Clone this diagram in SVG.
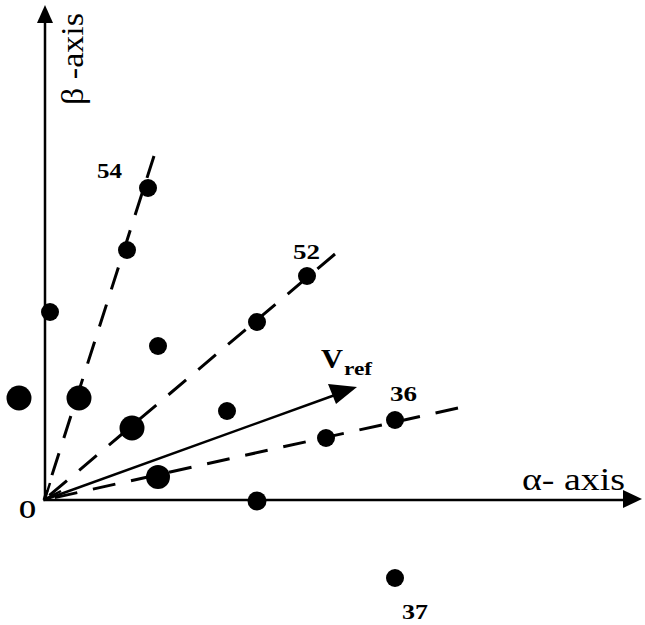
<svg xmlns="http://www.w3.org/2000/svg" width="645" height="625" viewBox="0 0 645 625">
<defs>
<style>
.axis{stroke:#000;stroke-width:2.5;fill:none}
.dash{stroke:#000;stroke-width:3;fill:none;stroke-dasharray:23 16}
.dot{fill:#000}
.lbl{font-family:"Liberation Serif",serif;font-weight:bold;fill:#000}
.ax{font-family:"Liberation Serif",serif;fill:#000}
</style>
</defs>
<rect width="645" height="625" fill="#fff"/>
<g id="connectors">
<line class="axis" x1="45" y1="500" x2="45" y2="20"/>
<polygon points="45,5 37,23 53,23" fill="#000"/>
<line class="axis" x1="44" y1="500" x2="625" y2="500"/>
<polygon points="642,499 623,490 623,508" fill="#000"/>
<line class="dash" x1="154" y1="156" x2="44" y2="500"/>
<line class="dash" x1="335" y1="254" x2="44" y2="500"/>
<line class="dash" x1="458" y1="408" x2="44" y2="500"/>
<line class="axis" x1="44" y1="500" x2="335" y2="395"/>
<polygon points="357,387 328,384 336,404" fill="#000"/>
<polyline class="axis" points="50,483 45,499 61,491"/>
</g>
<g id="dots">
<circle class="dot" cx="19" cy="398" r="12.5"/>
<circle class="dot" cx="50" cy="312" r="9"/>
<circle class="dot" cx="79" cy="398" r="12.5"/>
<circle class="dot" cx="127" cy="250" r="9"/>
<circle class="dot" cx="148" cy="188" r="9"/>
<circle class="dot" cx="158" cy="346" r="9"/>
<circle class="dot" cx="132" cy="428" r="12.5"/>
<circle class="dot" cx="158" cy="477" r="12"/>
<circle class="dot" cx="227" cy="411" r="9"/>
<circle class="dot" cx="257" cy="322" r="9"/>
<circle class="dot" cx="307" cy="276" r="9"/>
<circle class="dot" cx="326" cy="438" r="9"/>
<circle class="dot" cx="395" cy="420" r="9"/>
<circle class="dot" cx="257" cy="501" r="9.5"/>
<circle class="dot" cx="395" cy="578" r="9"/>
</g>
<g id="labels">
<text class="lbl" x="97" y="178" font-size="22" textLength="25" lengthAdjust="spacingAndGlyphs">54</text>
<text class="lbl" x="293" y="259" font-size="22" textLength="27" lengthAdjust="spacingAndGlyphs">52</text>
<text class="lbl" x="390" y="401" font-size="22" textLength="27" lengthAdjust="spacingAndGlyphs">36</text>
<text class="lbl" x="402" y="619" font-size="21" textLength="26" lengthAdjust="spacingAndGlyphs">37</text>
<text class="lbl" x="19" y="518" font-size="25" textLength="17" lengthAdjust="spacingAndGlyphs">O</text>
<text class="lbl" x="321" y="368" font-size="27" textLength="22" lengthAdjust="spacingAndGlyphs">V</text>
<text class="lbl" x="344" y="375" font-size="18" textLength="28" lengthAdjust="spacingAndGlyphs">ref</text>
<text class="ax" x="522" y="490" font-size="31" textLength="103" lengthAdjust="spacingAndGlyphs">α- axis</text>
<text class="ax" transform="translate(83,105) rotate(-90)" font-size="31" textLength="92" lengthAdjust="spacingAndGlyphs">β -axis</text>
</g>
</svg>
